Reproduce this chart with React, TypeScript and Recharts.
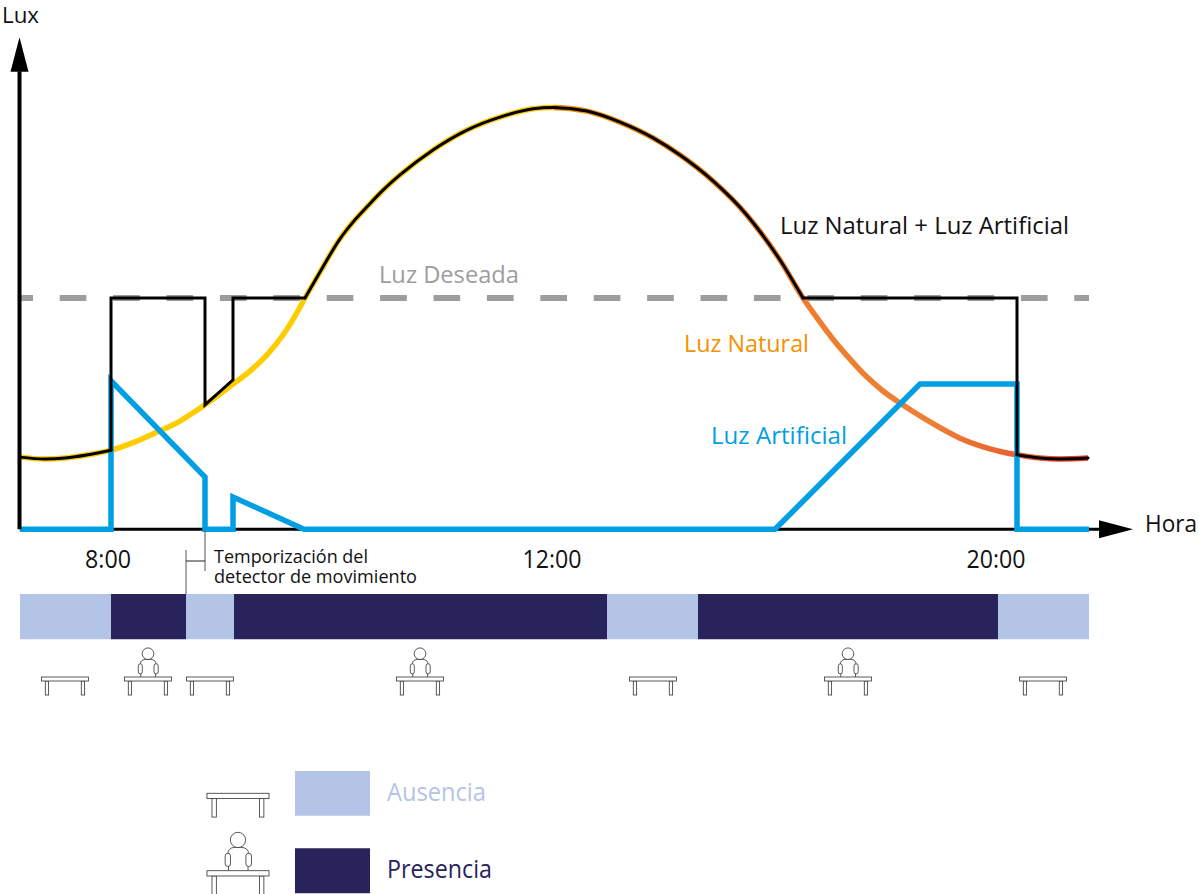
import React from "react";
import { ComposedChart, Line, XAxis, YAxis, ReferenceArea, ReferenceDot, ReferenceLine } from "recharts";

// --- data: timeline position (x) and illuminance in lux (y)
const naturalX = [0, 25, 45, 68, 91, 115, 135, 160, 185, 213, 230, 247, 263, 275, 285, 300, 320, 333, 347, 363, 380, 413, 447, 480, 513, 533, 567, 600, 633, 660, 693, 727, 760, 783, 797, 813, 830, 847, 863, 880, 907, 940, 970, 997, 1020, 1040, 1068];
const naturalLux = [156, 152, 154, 161, 171, 189, 208, 234, 269, 314, 342, 377, 420, 461, 500, 556, 628, 664, 697, 733, 766, 820, 863, 891, 909, 912, 904, 880, 846, 809, 753, 679, 582, 500, 457, 411, 368, 329, 299, 273, 236, 197, 174, 161, 154, 152, 154];

// the combined light follows daylight on these stretches (null = gap)...
const combinedCurveX = [0, 25, 45, 68, 91, 91, 285, 300, 320, 333, 347, 363, 380, 413, 447, 480, 513, 533, 567, 600, 633, 660, 693, 727, 760, 783, 783, 997, 1020, 1040, 1068];
const combinedCurveLux = [156, 152, 154, 161, 171, null, 500, 556, 628, 664, 697, 733, 766, 820, 863, 891, 909, 912, 904, 880, 846, 809, 753, 679, 582, 500, null, 161, 154, 152, 154];
// ...and switches abruptly on these
const combinedStepX = [91, 91, 185, 185, 213, 213, 285, 285, 783, 997, 997];
const combinedStepLux = [171, 500, 500, 269, 323, 500, 500, null, 500, 500, 161];

const artificialX = [0, 91, 91, 185, 185, 213, 213, 284, 755, 900, 997, 997, 1069];
const artificialLux = [0, 0, 321, 113, 0, 0, 70, 0, 0, 314, 314, 0, 0];

const desiredX = [0, 1069];
const desiredLux = [500, 500];

const baselineX = [-0.5, 1079];
const baselineLux = [0, 0];

const hourTicks = [88, 532, 976];
const hourLabels = ["8:00", "12:00", "20:00"];

const bandStarts = [0, 91, 166, 214, 587, 678, 978];
const bandEnds = [91, 166, 214, 587, 678, 978, 1069];
const bandKinds = ["a", "p", "a", "p", "a", "p", "a"];
const iconCentres = [45, 128, 190, 400, 633, 828, 1023];
const iconPeople = [false, true, false, true, false, true, false];

const zip = (xs: number[], ys: (number | null)[]) => xs.map((x, i) => ({ x, y: ys[i] }));
const naturalData = zip(naturalX, naturalLux);
const combinedCurveData = zip(combinedCurveX, combinedCurveLux);
const combinedStepData = zip(combinedStepX, combinedStepLux);
const artificialData = zip(artificialX, artificialLux);
const desiredData = zip(desiredX, desiredLux);
const baselineData = zip(baselineX, baselineLux);

// --- layout
const W = 1199;
const H = 894;
const LEFT = 18.5;
const BASE = 529.3;
const TOP = 71.3;
const RIGHT = 1099;
const LUX_PER_PX = 990 / (BASE - TOP);
const FONT = "'Open Sans', 'Noto Sans', sans-serif";
const LIGHT = "#B3C4E6";
const DARK = "#29235C";
const BLUE = "#009FE3";
const GREY = "#9D9D9C";
const ORANGE = "#F39200";

const xAt = (px: number) => px - 20;
const yAt = (py: number) => (BASE - py) * LUX_PER_PX;

const texts = [
  { t: "Lux", x: 2, y: 23, s: 22, w: 37, c: "#111" },
  { t: "Hora", x: 1145, y: 532, s: 24, w: 52, c: "#111" },
  { t: "Luz Natural + Luz Artificial", x: 780, y: 234, s: 24, w: 289, c: "#111" },
  { t: "Luz Deseada", x: 379, y: 283, s: 24, w: 140, c: GREY },
  { t: "Luz Natural", x: 684, y: 352, s: 24, w: 125, c: ORANGE },
  { t: "Luz Artificial", x: 711, y: 444, s: 24, w: 136, c: BLUE },
  { t: "Temporización del", x: 214, y: 563, s: 18, w: 154, c: "#111" },
  { t: "detector de movimiento", x: 214, y: 583, s: 18, w: 203, c: "#111" },
  { t: "Ausencia", x: 387, y: 801, s: 25, w: 99, c: LIGHT },
  { t: "Presencia", x: 387, y: 878, s: 25, w: 105, c: DARK },
];

function Icon({ cx, cy, person, k }: { cx: number; cy: number; person: boolean; k: number }) {
  const sw = 0.85 / k;
  const common = { fill: "#fff", stroke: "#3c3c3b", strokeWidth: sw };
  return (
    <g transform={`translate(${cx},${cy}) scale(${k})`}>
      {person && (
        <g {...common}>
          <path d="M-7.2 0V-4M7.6 0V-4M-7.6 -13Q-7.6 -17 -3 -17.7H3Q8 -17 8 -13" fill="none" />
          <circle cx={0} cy={-23.3} r={5.8} />
          <rect x={-9.7} y={-13.2} width={4} height={10} rx={2} />
          <rect x={6} y={-13.2} width={4.2} height={10} rx={2} />
        </g>
      )}
      <rect x={-19.7} y={4} width={3.3} height={14} {...common} />
      <rect x={16.3} y={4} width={3.3} height={14} {...common} />
      <rect x={-23.5} y={0} width={47} height={4} {...common} />
    </g>
  );
}

const lineBase = { dot: false, activeDot: false, isAnimationActive: false, legendType: "none", dataKey: "y" } as const;

export default function App() {
  return (
    <div style={{ position: "absolute", left: 0, top: 0, width: W, height: H, background: "#fff" }}>
      <ComposedChart
        width={W}
        height={H}
        margin={{ top: TOP, left: LEFT, right: W - RIGHT, bottom: H - BASE - 40 }}
        style={{ fontFamily: FONT }}
      >
        <defs>
          <linearGradient id="naturalGradient" x1="0" y1="0" x2="1" y2="0">
            <stop offset="0.499" stopColor="#FFCC00" />
            <stop offset="0.5" stopColor="#F39200" />
            <stop offset="0.72" stopColor="#EF7D2E" />
            <stop offset="0.85" stopColor="#EE7F33" />
            <stop offset="0.95" stopColor="#E85A30" />
            <stop offset="1" stopColor="#E6332A" />
          </linearGradient>
        </defs>
        <XAxis
          type="number"
          dataKey="x"
          domain={[-0.5, 1079]}
          ticks={hourTicks}
          interval={0}
          height={40}
          allowDataOverflow
          tickSize={0}
          tickMargin={38.7}
          axisLine={false}
          tickLine={false}
          tick={({ x, payload }: any) => (
            <text
              x={x}
              y={BASE + 38.7}
              textAnchor="middle"
              fontSize={25}
              fontFamily={FONT}
              fill="#111"
              textLength={payload.value === hourTicks[0] ? 46 : 59}
              lengthAdjust="spacingAndGlyphs"
            >
              {hourLabels[hourTicks.indexOf(payload.value)]}
            </text>
          )}
        />
        <YAxis
          type="number"
          domain={[0, 990]}
          width={1}
          ticks={[0]}
          tick={false}
          tickLine={false}
          axisLine={{ stroke: "#000", strokeWidth: 4 }}
        />

        <ReferenceDot
          x={-0.5}
          y={990}
          r={0}
          ifOverflow="visible"
          shape={({ cx, cy }: any) => <path d={`M${cx - 9} ${cy + 0.4}L${cx} ${cy - 34}L${cx + 9} ${cy + 0.4}Z`} fill="#000" />}
        />
        <ReferenceDot
          x={1079}
          y={0}
          r={0}
          ifOverflow="visible"
          shape={({ cx, cy }: any) => <path d={`M${cx} ${cy - 9}L${cx + 34} ${cy}L${cx} ${cy + 9}Z`} fill="#000" />}
        />

        <Line {...lineBase} data={baselineData} type="linear" stroke="#000" strokeWidth={3} name="Hora" />
        <Line {...lineBase} data={naturalData} type="monotone" stroke="url(#naturalGradient)" strokeWidth={5.5} name="Luz Natural" />
        <Line {...lineBase} data={desiredData} type="linear" stroke={GREY} strokeWidth={6} strokeDasharray="26.7 26.7" strokeDashoffset={13.7} name="Luz Deseada" />
        <Line {...lineBase} data={artificialData} type="linear" stroke={BLUE} strokeWidth={5.5} name="Luz Artificial" />
        <Line {...lineBase} data={combinedCurveData} type="monotone" stroke="#000" strokeWidth={3} strokeLinecap="round" name="Luz Natural + Luz Artificial" />
        <Line {...lineBase} data={combinedStepData} type="linear" stroke="#000" strokeWidth={3} strokeLinecap="round" name="Luz Natural + Luz Artificial (saltos)" />

        {bandStarts.map((s, i) => (
          <ReferenceArea
            key={`band${i}`}
            x1={s}
            x2={bandEnds[i]}
            y1={yAt(594)}
            y2={yAt(639.3)}
            ifOverflow="visible"
            fill={bandKinds[i] === "a" ? LIGHT : DARK}
            fillOpacity={1}
            stroke="none"
          />
        ))}
        <ReferenceArea x1={xAt(295)} x2={xAt(370)} y1={yAt(771)} y2={yAt(815.7)} ifOverflow="visible" fill={LIGHT} fillOpacity={1} stroke="none" />
        <ReferenceArea x1={xAt(295)} x2={xAt(370)} y1={yAt(848.3)} y2={yAt(893.3)} ifOverflow="visible" fill={DARK} fillOpacity={1} stroke="none" />

        <ReferenceLine ifOverflow="visible" stroke="#555" strokeWidth={1} segment={[{ x: xAt(205), y: yAt(531) }, { x: xAt(205), y: yAt(571) }]} />
        <ReferenceLine ifOverflow="visible" stroke="#555" strokeWidth={1} segment={[{ x: xAt(186), y: yAt(550) }, { x: xAt(186), y: yAt(594) }]} />
        <ReferenceLine ifOverflow="visible" stroke="#222" strokeWidth={1} segment={[{ x: xAt(186), y: yAt(561) }, { x: xAt(205), y: yAt(561) }]} />

        {iconCentres.map((c, i) => (
          <ReferenceDot
            key={`icon${i}`}
            x={c}
            y={yAt(677)}
            r={0}
            ifOverflow="visible"
            shape={({ cx, cy }: any) => <Icon cx={cx} cy={cy} person={iconPeople[i]} k={1} />}
          />
        ))}
        <ReferenceDot x={xAt(238)} y={yAt(793.3)} r={0} ifOverflow="visible" shape={({ cx, cy }: any) => <Icon cx={cx} cy={cy} person={false} k={1.32} />} />
        <ReferenceDot x={xAt(238)} y={yAt(870.7)} r={0} ifOverflow="visible" shape={({ cx, cy }: any) => <Icon cx={cx} cy={cy} person k={1.32} />} />

        {texts.map((t) => (
          <ReferenceDot
            key={t.t}
            x={xAt(t.x)}
            y={yAt(t.y)}
            r={0}
            ifOverflow="visible"
            shape={({ cx, cy }: any) => (
              <text x={cx} y={cy} fontSize={t.s} fontFamily={FONT} fill={t.c} textLength={t.w} lengthAdjust="spacingAndGlyphs">
                {t.t}
              </text>
            )}
          />
        ))}
      </ComposedChart>
    </div>
  );
}
